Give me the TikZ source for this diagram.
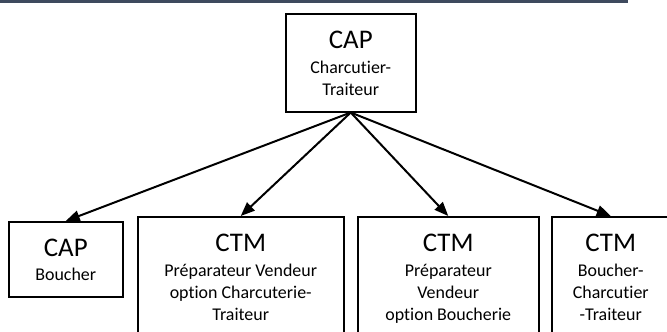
\documentclass[tikz,border=0pt]{standalone}
\usepackage{fontspec}
\setmainfont{Carlito}[Ligatures=NoCommon]
\usetikzlibrary{arrows.meta}

\definecolor{barblue}{RGB}{62,74,94}
\newcommand{\bigtxt}[1]{{\fontsize{27}{29}\selectfont\rule{0pt}{35bp}#1}}
\newcommand{\smalltxt}{\fontsize{18}{22}\selectfont}
\newcommand{\boxtext}[3]{\parbox[c][#2][t]{#1}{\centering #3}}

\begin{document}
\begin{tikzpicture}[x=1bp,y=-1bp,
    box/.style={draw, line width=1.5bp, inner sep=0pt, anchor=north west},
    link/.style={line width=2bp, -{Triangle[length=14bp,width=11bp]}}]
    \useasboundingbox (0,0) rectangle (667,331);
    \clip (0,0) rectangle (667,331);

    \fill [barblue] (0,0) rectangle (628,3);

    \node [box] (cap) at (285,13)
      {\boxtext{130bp}{98bp}{\bigtxt{CAP}\\[3bp] \smalltxt Charcutier-\\Traiteur}};

    \node [box] (capb) at (8,221)
      {\boxtext{114bp}{75bp}{\bigtxt{CAP}\\[2bp] \smalltxt Boucher}};
    \node [box] (ctma) at (137,216)
      {\boxtext{206bp}{140bp}{\bigtxt{CTM}\\[3bp] \smalltxt Préparateur Vendeur\\option Charcuterie-\\Traiteur}};
    \node [box] (ctmb) at (357,216)
      {\boxtext{181bp}{140bp}{\bigtxt{CTM}\\[3bp] \smalltxt Préparateur\\Vendeur\\option Boucherie}};
    \node [box] (ctmc) at (551,216)
      {\boxtext{118bp}{140bp}{\bigtxt{CTM}\\[3bp] \smalltxt Boucher-\\Charcutier\\-Traiteur}};

    \draw [link] (cap.south) -- (capb.north);
    \draw [link] (cap.south) -- (ctma.north);
    \draw [link] (cap.south) -- (ctmb.north);
    \draw [link] (cap.south) -- (ctmc.north);
\end{tikzpicture}
\end{document}
